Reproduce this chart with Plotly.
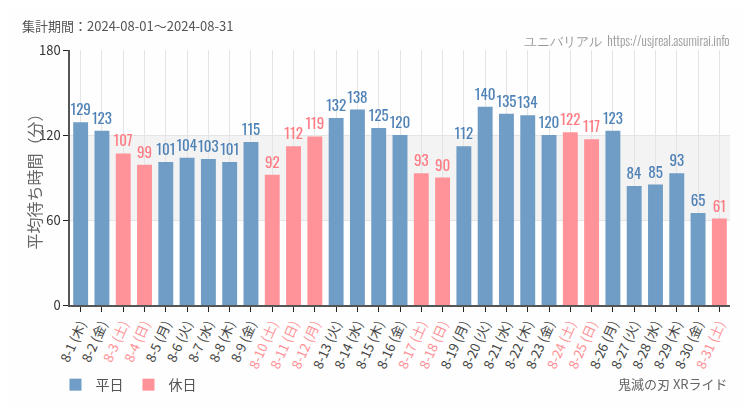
import plotly.graph_objects as go

dates = ["8-1", "8-2", "8-3", "8-4", "8-5", "8-6", "8-7", "8-8", "8-9", "8-10",
         "8-11", "8-12", "8-13", "8-14", "8-15", "8-16", "8-17", "8-18", "8-19", "8-20",
         "8-21", "8-22", "8-23", "8-24", "8-25", "8-26", "8-27", "8-28", "8-29", "8-30", "8-31"]
weekdays = ["木", "金", "土", "日", "月", "火", "水", "木", "金", "土",
            "日", "月", "火", "水", "木", "金", "土", "日", "月", "火",
            "水", "木", "金", "土", "日", "月", "火", "水", "木", "金", "土"]
values = [129, 123, 107, 99, 101, 104, 103, 101, 115, 92,
          112, 119, 132, 138, 125, 120, 93, 90, 112, 140,
          135, 134, 120, 122, 117, 123, 84, 85, 93, 65, 61]
holiday = [0, 0, 1, 1, 0, 0, 0, 0, 0, 1,
           1, 1, 0, 0, 0, 0, 1, 1, 0, 0,
           0, 0, 0, 1, 1, 0, 0, 0, 0, 0, 1]
y_ticks = [0, 60, 120, 180]

BLUE = "#6b9ac4"
RED = "#ff9096"
BLUE_TXT = "#4a7eb4"
RED_TXT = "#ff7880"
NARROW = "Oswald, Roboto Condensed, sans-serif"
JP = "Noto Sans CJK JP, Noto Sans, sans-serif"

cats = [f"{d} ({w})" for d, w in zip(dates, weekdays)]
ticktext = [f"<span style='color:{RED}'>{c}</span>" if h else c for c, h in zip(cats, holiday)]

fig = go.Figure()
for name, flag, col, tcol in [("平日", 0, BLUE, BLUE_TXT), ("休日", 1, RED, RED_TXT)]:
    xs = [c for c, h in zip(cats, holiday) if h == flag]
    ys = [v for v, h in zip(values, holiday) if h == flag]
    fig.add_trace(go.Bar(
        x=xs, y=ys, name=name, marker=dict(color=col, line=dict(width=0)), opacity=0.97,
        text=[str(v) for v in ys], textposition="outside", cliponaxis=False,
        constraintext="none", textangle=0,
        textfont=dict(family=NARROW, size=15, color=tcol),
    ))

fig.add_shape(type="rect", xref="paper", yref="y", x0=0, x1=1, y0=60, y1=120,
              fillcolor="#f3f3f3", line=dict(width=0), layer="below")

fig.update_layout(
    width=750, height=410,
    margin=dict(l=62, r=28, t=42, b=113, autoexpand=False),
    paper_bgcolor="#fdfefd", plot_bgcolor="#fdfefd",
    barmode="overlay", bargap=0.3,
    font=dict(family=JP, color="#444"),
    showlegend=True,
    uniformtext=dict(mode=False),
    legend=dict(orientation="h", x=-0.022, y=-0.314, xanchor="left", yanchor="middle",
                font=dict(size=14, color="#555"), traceorder="normal", itemwidth=30,
                bgcolor="rgba(0,0,0,0)"),
    xaxis=dict(
        type="category", categoryorder="array", categoryarray=cats, automargin=False,
        tickmode="array", tickvals=cats, ticktext=ticktext, tickangle=-66,
        tickfont=dict(family=JP, size=13, color="#444"),
        showgrid=True, gridcolor="#e4e4e4", gridwidth=1,
        showline=True, linecolor="#555", linewidth=1.5,
        ticks="outside", ticklen=5, tickcolor="#222",
        range=[-0.5, len(cats) - 0.5],
    ),
    yaxis=dict(
        range=[0, 180], tickmode="array", tickvals=y_ticks, automargin=False,
        tickfont=dict(family=JP, size=13, color="#333"),
        showgrid=True, gridcolor="#e4e4e4", zeroline=False,
        showline=True, linecolor="#555", linewidth=1.5,
        ticks="outside", ticklen=5, tickcolor="#222",
    ),
    annotations=[
        dict(text="平均待ち時間（分）", xref="paper", yref="paper", x=-0.056, y=0.5,
             xanchor="center", yanchor="middle", textangle=-90, showarrow=False,
             font=dict(family=JP, size=16, color="#666")),
        dict(text="集計期間：2024-08-01～2024-08-31", xref="paper", yref="paper",
             x=-0.0758, y=1.0, xanchor="left", yanchor="middle", yshift=25, showarrow=False,
             font=dict(family=JP, size=13, color="#555")),
        dict(text="ユニバリアル  https://usjreal.asumirai.info", xref="paper", yref="paper",
             x=1.003, y=1.0, xanchor="right", yanchor="middle", yshift=10, showarrow=False,
             font=dict(family=NARROW, size=13, color="#999", weight=300)),
        dict(text="鬼滅の刃 XRライド", xref="paper", yref="paper",
             x=1.0, y=0, xanchor="right", yanchor="middle", yshift=-78, showarrow=False,
             font=dict(family=JP, size=13, color="#666")),
    ],
)

fig.write_html("out.html")
